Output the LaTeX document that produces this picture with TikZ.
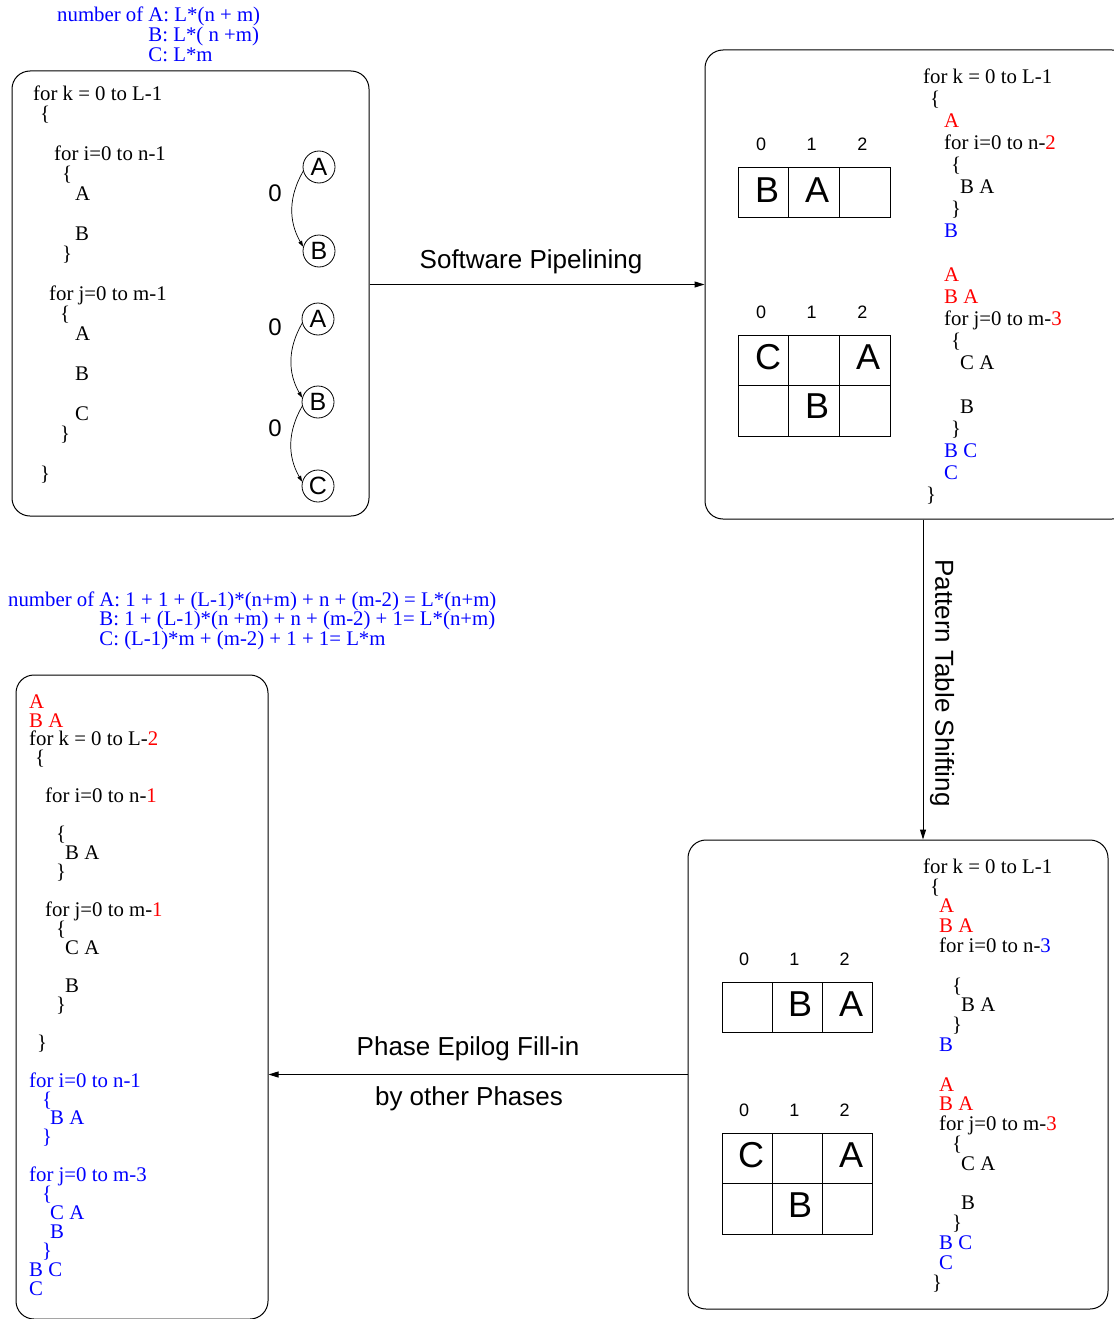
\documentclass[tikz,border=0pt]{standalone}
\usepackage{fontspec}
\setmainfont{Liberation Serif}
\setsansfont{Liberation Sans}
\usetikzlibrary{arrows.meta}
\newcommand\rtxt[1]{\textcolor{red}{#1}}
\newcommand\btxt[1]{\textcolor{blue}{#1}}
\newcommand\codefont[1]{\fontsize{20.8pt}{#1}\selectfont}
\newcommand\ind[1]{\hspace*{#1pt}}
\tikzset{
  panel/.style={draw,rounded corners=18pt,line width=1pt,inner sep=0pt},
  code/.style={anchor=base west,align=left,inner sep=0pt},
  flow/.style={-{Triangle[length=10pt,width=6pt]},line width=1pt},
  dep/.style={draw,circle,inner sep=0pt,minimum size=32pt,line width=.8pt,
    font=\sffamily\fontsize{25}{25}\selectfont},
  deparrow/.style={-{Triangle[length=6pt,width=4pt]},line width=.7pt},
  lbl/.style={inner sep=0pt,font=\sffamily\fontsize{26}{26}\selectfont},
  lat/.style={inner sep=0pt,font=\sffamily\fontsize{24}{24}\selectfont},
  cell/.style={line width=1pt},
  colnum/.style={anchor=base,inner sep=0pt,font=\sffamily\fontsize{18}{18}\selectfont},
  cellltr/.style={anchor=base,inner sep=0pt,font=\sffamily\fontsize{36}{36}\selectfont}
}
\begin{document}
\begin{tikzpicture}[x=1pt,y=-1pt]
  \useasboundingbox (0,0) rectangle (1113,1319);
  % the four panels
  \node[panel,minimum width=357,minimum height=445] (loop) at (190.5,293.5) {};
  \node[panel,minimum width=425,minimum height=469] (pipe) at (917.5,284.5) {};
  \node[panel,minimum width=420,minimum height=469] (shifted) at (898,1074.5) {};
  \node[panel,minimum width=252,minimum height=644] (epi) at (142,997) {};

  % original loop (code nodes sit on the baseline of their last line)
  \node[code,font={\codefont{19pt}},text=blue] (counts) at (57,62)
  {number of A: L*(n + m)\\ \phantom{number of }B: L*( n +m)\\
    \phantom{number of }C: L*m};
  \node[code,font={\codefont{20pt}}] (loopcode) at (33,480)
  {for k = 0 to L-1\\ \ind{7}\{\\[20pt]
    \ind{21}for i=0 to n-1\\ \ind{29}\{\\ \ind{42}A\\[20pt] \ind{42}B\\
    \ind{29}\}\\[20pt]
    \ind{16}for j=0 to m-1\\ \ind{27}\{\\ \ind{42}A\\[20pt] \ind{42}B\\[20pt]
    \ind{42}C\\ \ind{27}\}\\[20pt] \ind{7}\}};
  \node[dep] (a1) at (319,167) {A}; \node[dep] (b1) at (319,251) {B};
  \node[dep] (a2) at (318,319) {A}; \node[dep] (b2) at (318,402) {B};
  \node[dep] (c2) at (318,486) {C};
  \draw[deparrow] (a1.195) to[bend right=30] (b1.165);
  \draw[deparrow] (a2.195) to[bend right=30] (b2.165);
  \draw[deparrow] (b2.195) to[bend right=30] (c2.165);
  \node[lat] (w1) at (275,193) {0}; \node[lat] (w2) at (275,327) {0};
  \node[lat] (w3) at (275,428) {0};

  % software pipelined loop
  \foreach \c in {0,1,2} {
    \draw[cell] ({738+\c*50.7},167) rectangle +(50.7,50);
    \node[colnum] (ta\c) at ({761+\c*50.7},150) {\c};
    \foreach \r in {0,1} \draw[cell] ({738+\c*50.7},{335+\r*50.5}) rectangle +(50.7,50.5);
    \node[colnum] (tb\c) at ({761+\c*50.7},318) {\c};
  }
  \node[cellltr] (tab) at (767,202) {B}; \node[cellltr] (taa) at (817,202) {A};
  \node[cellltr] (tbc) at (768,369) {C}; \node[cellltr] (tba) at (868,369) {A};
  \node[cellltr] (tbb) at (817,418) {B};
  \node[code,font={\codefont{22pt}}] (pipecode) at (923,501)
  {for k = 0 to L-1\\ \ind{7}\{\\ \ind{21}\rtxt{A}\\
    \ind{21}for i=0 to n-\rtxt{2}\\ \ind{28}\{\\ \ind{37}B A\\ \ind{28}\}\\
    \ind{21}\btxt{B}\\[22pt]
    \ind{21}\rtxt{A}\\ \ind{21}\rtxt{B A}\\ \ind{21}for j=0 to m-\rtxt{3}\\
    \ind{28}\{\\ \ind{37}C A\\[22pt] \ind{37}B\\ \ind{28}\}\\
    \ind{21}\btxt{B C}\\ \ind{21}\btxt{C}\\ \ind{3}\}};

  % shifted pattern tables
  \foreach \c in {0,1,2} {
    \draw[cell] ({722+\c*50.3},982) rectangle +(50.3,50);
    \node[colnum] (tc\c) at ({744+\c*50.3},965) {\c};
    \foreach \r in {0,1} \draw[cell] ({722+\c*50.3},{1133+\r*50.5}) rectangle +(50.3,50.5);
    \node[colnum] (td\c) at ({744+\c*50.3},1116) {\c};
  }
  \node[cellltr] (tcb) at (800,1016) {B}; \node[cellltr] (tca) at (851,1016) {A};
  \node[cellltr] (tdc) at (751,1167) {C}; \node[cellltr] (tda) at (851,1167) {A};
  \node[cellltr] (tdb) at (800,1217) {B};
  \node[code,font={\codefont{19.8pt}}] (shiftcode) at (923,1289)
  {for k = 0 to L-1\\ \ind{7}\{\\ \ind{16}\rtxt{A}\\ \ind{16}\rtxt{B A}\\
    \ind{16}for i=0 to n-\btxt{3}\\[19.8pt]
    \ind{29}\{\\ \ind{38}B A\\ \ind{29}\}\\ \ind{16}\btxt{B}\\[19.8pt]
    \ind{16}\rtxt{A}\\ \ind{16}\rtxt{B A}\\ \ind{16}for j=0 to m-\rtxt{3}\\
    \ind{29}\{\\ \ind{38}C A\\[19.8pt] \ind{38}B\\ \ind{29}\}\\
    \ind{16}\btxt{B C}\\ \ind{16}\btxt{C}\\ \ind{9}\}};

  % loop with epilog filled in
  \node[code,font={\codefont{19.5pt}},text=blue] (newcounts) at (8,645)
  {number of A: 1 + 1 + (L-1)*(n+m) + n + (m-2) = L*(n+m)\\
    \phantom{number of }B: 1 + (L-1)*(n +m) + n + (m-2) + 1= L*(n+m)\\
    \phantom{number of }C: (L-1)*m + (m-2) + 1 + 1= L*m};
  \node[code,font={\codefont{18.95pt}}] (epicode) at (29,1295.5)
  {\rtxt{A}\\ \rtxt{B A}\\ for k = 0 to L-\rtxt{2}\\ \ind{6}\{\\[18.95pt]
    \ind{16}for i=0 to n-\rtxt{1}\\[18.95pt]
    \ind{27}\{\\ \ind{36}B A\\ \ind{27}\}\\[18.95pt]
    \ind{16}for j=0 to m-\rtxt{1}\\ \ind{27}\{\\ \ind{36}C A\\[18.95pt]
    \ind{36}B\\ \ind{27}\}\\[18.95pt] \ind{8}\}\\[18.95pt]
    \btxt{for i=0 to n-1}\\ \ind{13}\btxt{\{}\\ \ind{21}\btxt{B A}\\
    \ind{13}\btxt{\}}\\[18.95pt]
    \btxt{for j=0 to m-3}\\ \ind{13}\btxt{\{}\\ \ind{21}\btxt{C A}\\
    \ind{21}\btxt{B}\\ \ind{13}\btxt{\}}\\ \btxt{B C}\\ \btxt{C}};

  % transformations
  \draw[flow] (loop.east |- pipe.west) -- (pipe.west);
  \node[lbl,anchor=base] (swp) at (531,268) {Software Pipelining};
  \draw[flow] (pipe.south -| 923,0) -- (shifted.north -| 923,0);
  \node[lbl,rotate=-90] (pts) at (942,683) {Pattern Table Shifting};
  \draw[flow] (shifted.west) -- (shifted.west -| epi.east);
  \node[lbl,anchor=base] (pef) at (468,1055) {Phase Epilog Fill-in};
  \node[lbl,anchor=base] (bop) at (469,1105) {by other Phases};
\end{tikzpicture}
\end{document}
